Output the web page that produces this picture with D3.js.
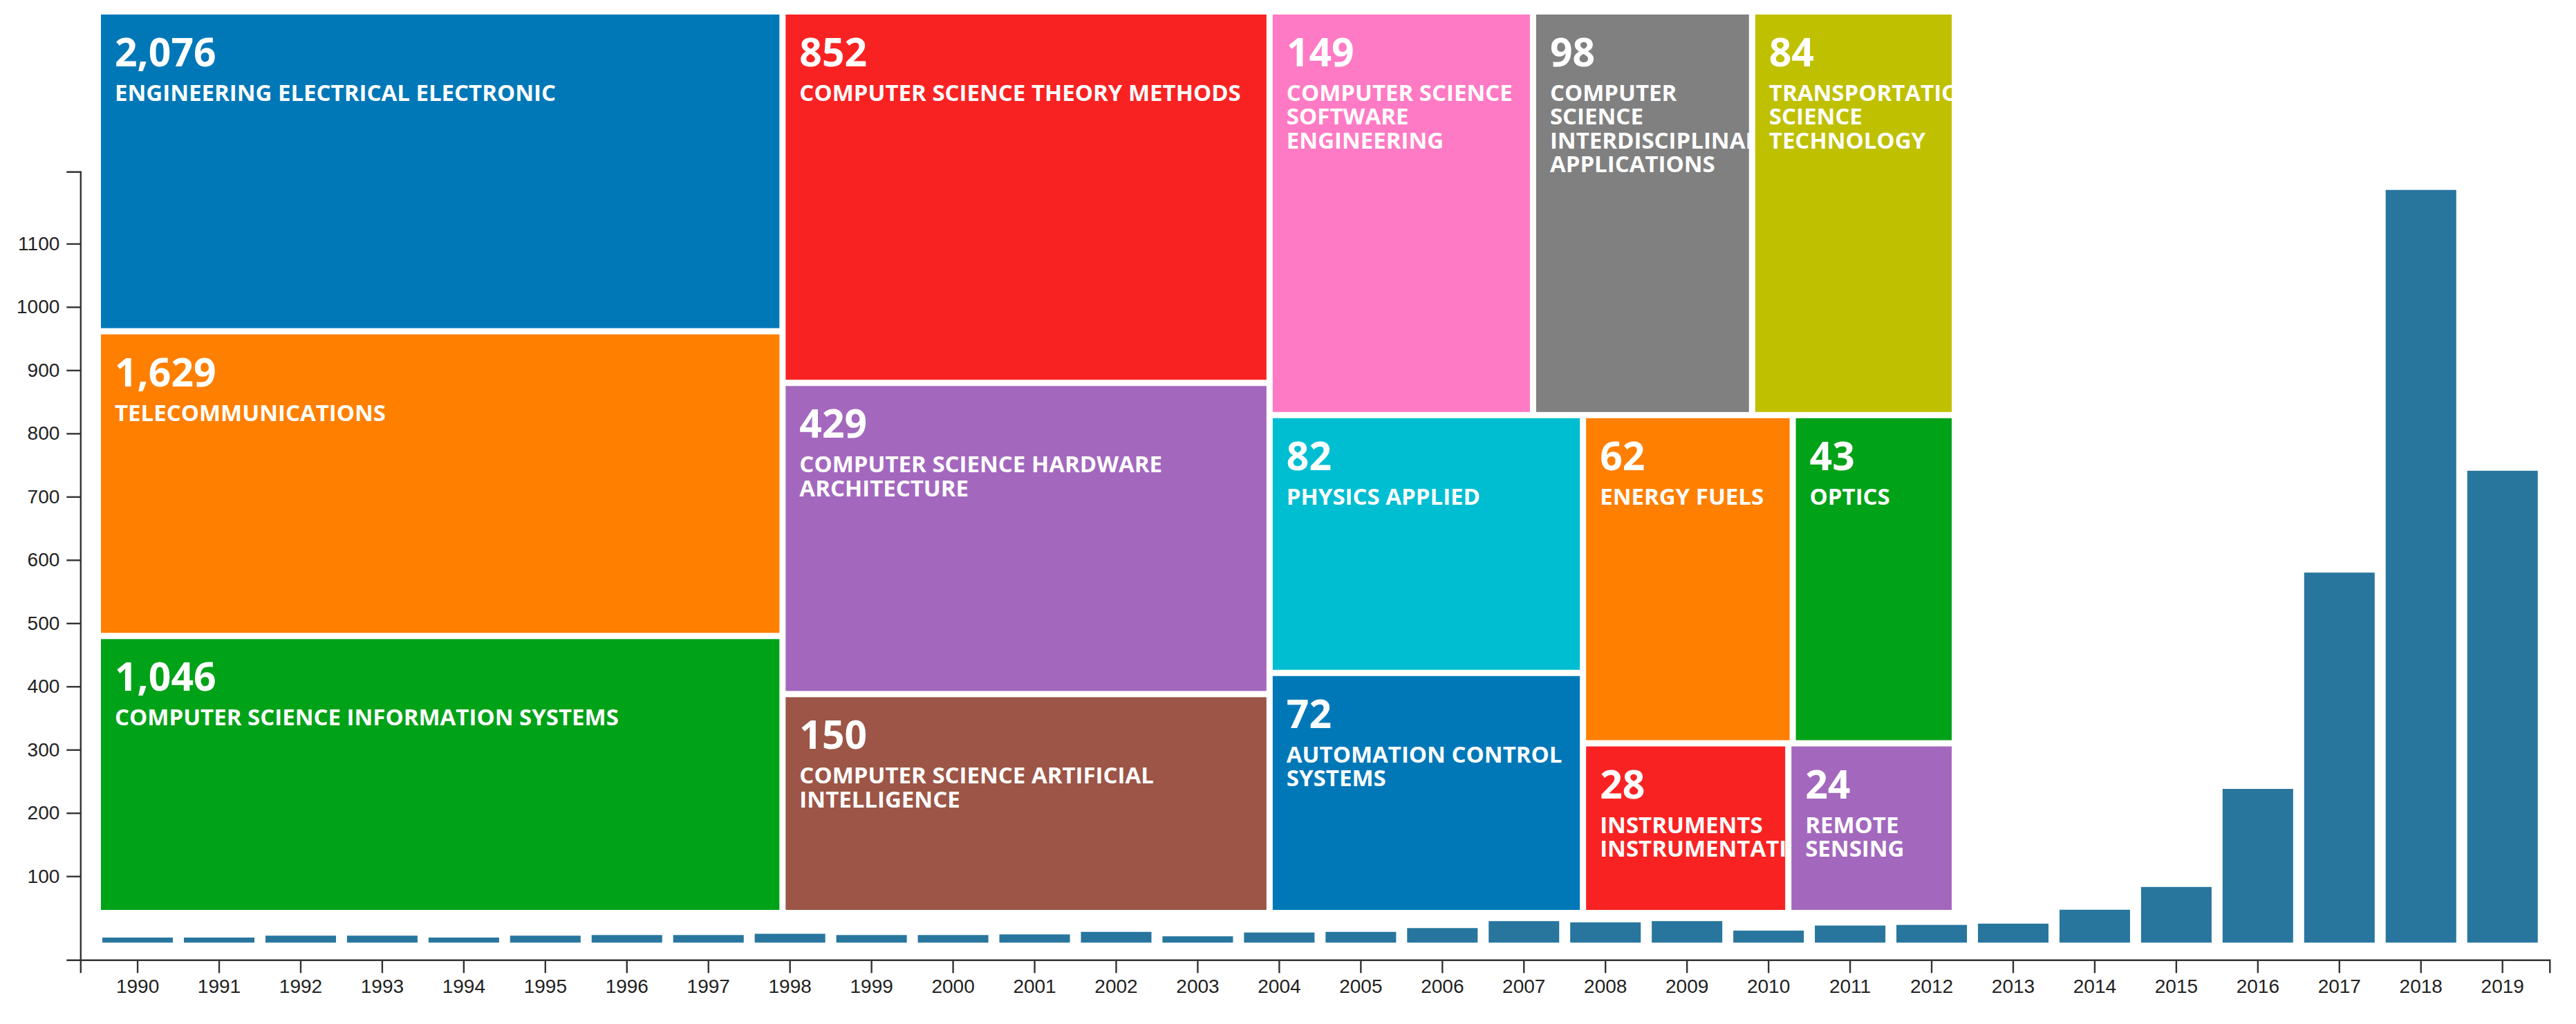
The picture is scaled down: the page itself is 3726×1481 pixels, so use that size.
<!DOCTYPE html>
<html>
<head>
<meta charset="utf-8">
<script src="https://cdn.jsdelivr.net/npm/d3@7"></script>
<style>
  html, body { margin: 0; padding: 0; background: #fff; }
  svg { display: block; }
</style>
</head>
<body>
<svg id="chart" width="3726" height="1481"></svg>
<script>
// ---------- DATA ----------
const years = [1990,1991,1992,1993,1994,1995,1996,1997,1998,1999,
               2000,2001,2002,2003,2004,2005,2006,2007,2008,2009,
               2010,2011,2012,2013,2014,2015,2016,2017,2018,2019];
const yearCounts = [8,8,11,11,8,11,12,12,14,12,
                    12,13,17,10,16,17,23,34,32,34,
                    19,27,28,30,52,88,243,585,1190,746];
const yTickValues = [100,200,300,400,500,600,700,800,900,1000,1100];

const categories = [
  "ENGINEERING ELECTRICAL ELECTRONIC",
  "TELECOMMUNICATIONS",
  "COMPUTER SCIENCE INFORMATION SYSTEMS",
  "COMPUTER SCIENCE THEORY METHODS",
  "COMPUTER SCIENCE HARDWARE ARCHITECTURE",
  "COMPUTER SCIENCE ARTIFICIAL INTELLIGENCE",
  "COMPUTER SCIENCE SOFTWARE ENGINEERING",
  "COMPUTER SCIENCE INTERDISCIPLINARY APPLICATIONS",
  "TRANSPORTATION SCIENCE TECHNOLOGY",
  "PHYSICS APPLIED",
  "AUTOMATION CONTROL SYSTEMS",
  "ENERGY FUELS",
  "OPTICS",
  "INSTRUMENTS INSTRUMENTATION",
  "REMOTE SENSING"
];
const categoryCounts = [2076,1629,1046,852,429,150,149,98,84,82,72,62,43,28,24];
const palette = ["#0078b8","#ff7f00","#00a218","#f92222","#a368be",
                 "#9c5546","#ff7ac4","#808080","#bfc000","#00bed2"];

// ---------- SETUP ----------
const svg = d3.select("#chart");
const axisFont = "'Liberation Sans', Arial, sans-serif";
const labelFont = "'Open Sans', 'Noto Sans', sans-serif";

// ---------- BAR CHART ----------
const x = d3.scaleBand()
  .domain(years)
  .range([116.3, 3687.8])
  .paddingInner(0.135)
  .paddingOuter(0.207)
  .align(0.65);

const yMax = d3.max(yearCounts) * 1.02;
const y = d3.scaleLinear().domain([0, yMax]).range([1358.7, 248.3]);
const yAxisScale = y.copy().domain([y.invert(1388.3), yMax]).range([1388.3, 248.3]);

svg.append("g")
  .attr("transform", "translate(0,4.6)")
  .selectAll("rect")
  .data(years)
  .join("rect")
  .attr("x", d => x(d))
  .attr("width", x.bandwidth())
  .attr("y", (d, i) => y(yearCounts[i]))
  .attr("height", (d, i) => y(0) - y(yearCounts[i]))
  .attr("fill", "#28769e");

// x axis
const gx = svg.append("g")
  .attr("transform", "translate(0,1388.3)")
  .call(d3.axisBottom(x).tickSize(19).tickSizeOuter(19).tickPadding(9));
gx.attr("font-family", axisFont).attr("font-size", 28);
gx.select(".domain").attr("stroke", "#333").attr("stroke-width", 2.4);
gx.selectAll(".tick line").attr("stroke", "#333").attr("stroke-width", 2.4);
gx.selectAll(".tick text").attr("fill", "#222");

// y axis
const gy = svg.append("g")
  .attr("transform", "translate(116.3,0)")
  .call(d3.axisLeft(yAxisScale)
    .tickValues(yTickValues)
    .tickFormat(d3.format("d"))
    .tickSize(20).tickSizeOuter(20).tickPadding(10));
gy.attr("font-family", axisFont).attr("font-size", 28);
gy.select(".domain").attr("stroke", "#333").attr("stroke-width", 2.4);
gy.selectAll(".tick line").attr("stroke", "#333").attr("stroke-width", 2.4);
gy.selectAll(".tick text").attr("fill", "#222");

// ---------- TREEMAP ----------
const sizeScale = d3.scaleLog().domain(d3.extent(categoryCounts)).range([1, 7.75]);
const color = d3.scaleOrdinal().domain(d3.range(categories.length)).range(palette);

const root = d3.hierarchy({
  children: categories.map((c, i) => ({ name: c, count: categoryCounts[i], idx: i }))
}).sum(d => d.count ? sizeScale(d.count) : 0);

d3.treemap()
  .tile(d3.treemapSquarify)
  .size([2677, 1295])
  .paddingInner(9)(root);

const tm = svg.append("g").attr("transform", "translate(146,21)");

const cells = tm.selectAll("g.cell")
  .data(root.leaves())
  .join("g")
  .attr("class", "cell")
  .attr("transform", d => `translate(${d.x0},${d.y0})`);

cells.append("clipPath")
  .attr("id", d => "clip" + d.data.idx)
  .append("rect")
  .attr("width", d => d.x1 - d.x0)
  .attr("height", d => d.y1 - d.y0);

cells.append("rect")
  .attr("width", d => d.x1 - d.x0)
  .attr("height", d => d.y1 - d.y0)
  .attr("fill", d => color(d.data.idx));

const labels = cells.append("g")
  .attr("clip-path", d => `url(#clip${d.data.idx})`);

labels.append("text")
  .attr("x", 20)
  .attr("y", 75)
  .attr("font-family", labelFont)
  .attr("font-weight", 700)
  .attr("font-size", 57)
  .attr("fill", "#fff")
  .text(d => d3.format(",")(d.data.count));

// measurer for wrapping
const measurer = svg.append("text")
  .attr("font-family", labelFont)
  .attr("font-weight", 700)
  .attr("font-size", 33)
  .attr("visibility", "hidden");

function wrapLines(str, maxW) {
  const words = str.split(" ");
  const lines = [];
  let line = [];
  for (const w of words) {
    const test = line.concat(w).join(" ");
    measurer.text(test);
    if (line.length && measurer.node().getComputedTextLength() > maxW) {
      lines.push(line.join(" "));
      line = [w];
    } else {
      line.push(w);
    }
  }
  if (line.length) lines.push(line.join(" "));
  return lines;
}

labels.append("text")
  .attr("font-family", labelFont)
  .attr("font-weight", 700)
  .attr("font-size", 33)
  .attr("fill", "#fff")
  .each(function(d) {
    const lines = wrapLines(d.data.name, (d.x1 - d.x0) - 25);
    d3.select(this).selectAll("tspan")
      .data(lines)
      .join("tspan")
      .attr("x", 20)
      .attr("y", (l, i) => 125 + i * 34.4)
      .text(l => l);
  });

measurer.remove();
</script>
</body>
</html>
